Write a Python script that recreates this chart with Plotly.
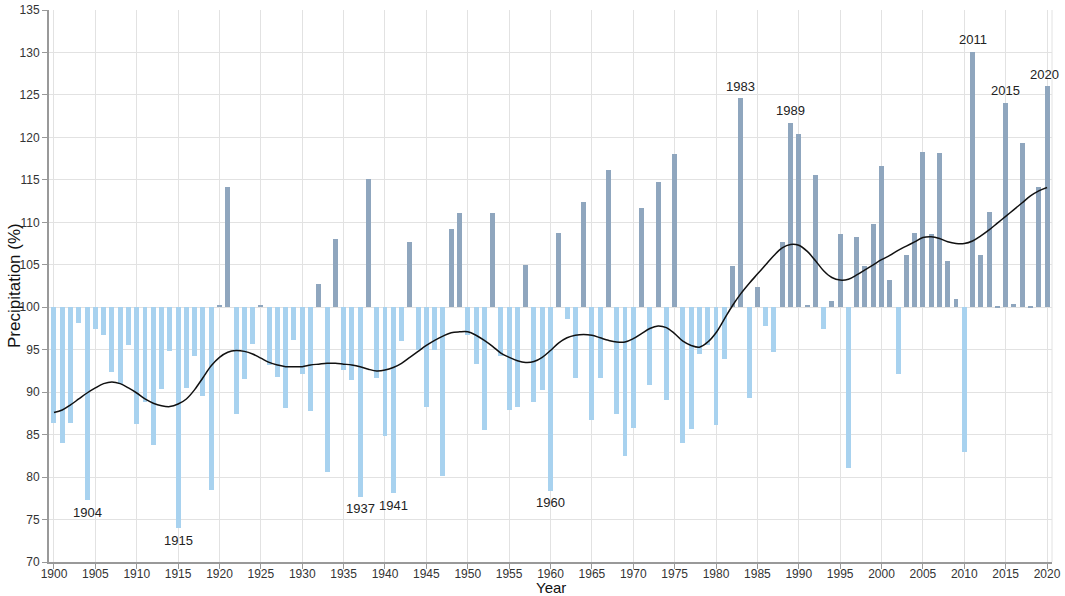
import plotly.graph_objects as go

# anos e precipitacao anual (% da media)
anos = list(range(1900, 2021))

precipitacao = [
    86.4, 84.0, 86.4, 98.1, 77.3, 97.4, 96.7, 92.4, 91.0, 95.6,   # 1900-1909
    86.2, 88.8, 83.8, 90.4, 94.9, 74.0, 90.5, 94.2, 89.5, 78.5,   # 1910-1919
    100.3, 114.1, 87.4, 91.5, 95.7, 100.3, 93.2, 91.8, 88.1, 96.1,  # 1920-1929
    92.1, 87.8, 102.7, 80.6, 108.0, 92.6, 91.4, 77.7, 115.1, 91.7,  # 1930-1939
    84.8, 78.1, 96.0, 107.7, 95.0, 88.3, 95.0, 80.1, 109.2, 111.1,  # 1940-1949
    96.7, 93.3, 85.5, 111.1, 94.3, 87.9, 88.3, 105.0, 88.9, 90.2,   # 1950-1959
    78.4, 108.8, 98.6, 91.7, 112.4, 86.7, 91.7, 116.2, 87.4, 82.5,  # 1960-1969
    85.8, 111.7, 90.9, 114.8, 89.1, 118.1, 84.0, 85.7, 94.5, 95.5,  # 1970-1979
    86.1, 93.9, 104.8, 124.6, 89.3, 102.4, 97.8, 94.7, 107.7, 121.7,  # 1980-1989
    120.4, 100.3, 115.6, 97.4, 100.7, 108.6, 81.1, 108.3, 104.9, 109.8,  # 1990-1999
    116.6, 103.2, 92.1, 106.2, 108.7, 118.3, 108.6, 118.2, 105.4, 101.0,  # 2000-2009
    83.0, 130.1, 106.1, 111.2, 100.05, 124.1, 100.4, 119.3, 100.05, 114.2,  # 2010-2019
    126.0,  # 2020
]

# curva suavizada
suavizada = [
    87.6, 87.9, 88.5, 89.2, 89.9, 90.5, 91.0, 91.2, 91.0, 90.5,
    89.9, 89.2, 88.7, 88.4, 88.3, 88.6, 89.2, 90.3, 91.7, 93.1,
    94.1, 94.7, 94.9, 94.8, 94.5, 94.0, 93.5, 93.2, 93.0, 93.0,
    93.0, 93.2, 93.3, 93.4, 93.4, 93.3, 93.2, 93.0, 92.7, 92.5,
    92.6, 92.9, 93.4, 94.1, 94.8, 95.5, 96.1, 96.6, 97.0, 97.1,
    97.1, 96.7, 96.1, 95.4, 94.6, 94.1, 93.7, 93.5, 93.6, 94.1,
    94.9, 95.8, 96.4, 96.7, 96.8, 96.7, 96.4, 96.1, 95.9, 95.9,
    96.3, 96.9, 97.5, 97.8, 97.6, 96.9, 96.0, 95.5, 95.3, 95.9,
    97.0, 98.6, 100.2, 101.6, 102.8, 103.9, 105.0, 106.1, 107.0, 107.4,
    107.3, 106.6, 105.5, 104.3, 103.5, 103.2, 103.3, 103.8, 104.4, 105.0,
    105.6, 106.1, 106.7, 107.2, 107.7, 108.2, 108.3, 108.1, 107.7, 107.5,
    107.5, 107.8, 108.4, 109.1, 109.9, 110.7, 111.5, 112.3, 113.1, 113.7,
    114.1,
]

# anos destacados com rotulo
anos_destaque = [1904, 1915, 1937, 1941, 1960, 1983, 1989, 2011, 2015, 2020]

cor_pos = '#8FA6BE'
cor_neg = '#A8D2EF'
fonte = 'Liberation Sans, Arial'

cores = [cor_pos if v >= 100 else cor_neg for v in precipitacao]

fig = go.Figure()

fig.add_trace(go.Bar(
    x=anos,
    y=[v - 100 for v in precipitacao],
    base=100,
    marker=dict(color=cores, line=dict(width=0)),
    width=0.6,
    hoverinfo='skip',
))

fig.add_trace(go.Scatter(
    x=anos,
    y=suavizada,
    mode='lines',
    line=dict(color='#111111', width=1.5, shape='spline', smoothing=1.0),
    hoverinfo='skip',
))

for ano in anos_destaque:
    v = precipitacao[anos.index(ano)]
    fig.add_annotation(
        x=ano, y=v, text=str(ano), showarrow=False,
        yshift=12 if v >= 100 else -12,
        xshift=-3 if ano == 2020 else 0,
        font=dict(family=fonte, size=13, color='#222222'),
    )

# titulos dos eixos como anotacoes (posicao fixa)
fig.add_annotation(x=0.5, y=0, xref='paper', yref='paper', text='Year',
                   showarrow=False, yanchor='middle', yshift=-25, borderpad=0,
                   font=dict(family=fonte, size=15, color='#111111'))
fig.add_annotation(x=0, y=0.5, xref='paper', yref='paper', text='Precipitation (%)',
                   showarrow=False, textangle=-90, xanchor='center', xshift=-35,
                   borderpad=0,
                   font=dict(family=fonte, size=17, color='#111111'))

fig.update_layout(
    width=1065, height=596,
    margin=dict(l=49, r=13, t=10, b=34),
    plot_bgcolor='white', paper_bgcolor='white',
    showlegend=False,
    bargap=0,
    font=dict(family=fonte, size=12, color='#333333'),
    shapes=[dict(type='line', xref='paper', yref='paper', x0=1, x1=1, y0=0, y1=1,
                 line=dict(color='#e2e2e2', width=1))],
)

fig.update_xaxes(
    range=[1899.4, 2020.6],
    tickmode='linear', tick0=1900, dtick=5,
    showgrid=True, gridcolor='#e2e2e2', gridwidth=1,
    showline=True, linecolor='#999999', linewidth=2,
    ticks='outside', ticklen=5, tickcolor='#999999',
    ticklabelstandoff=-5,
    zeroline=False, automargin=False,
)

fig.update_yaxes(
    range=[70, 135],
    tickmode='linear', tick0=70, dtick=5,
    showgrid=True, gridcolor='#e2e2e2', gridwidth=1,
    showline=True, linecolor='#999999', linewidth=2,
    ticks='outside', ticklen=5, tickcolor='#999999',
    zeroline=False, automargin=False,
)

# tira a margem padrao do body para a figura ficar no canto
fig.write_html('out.html', config={'displayModeBar': False},
               post_script="document.body.style.margin='0';")
